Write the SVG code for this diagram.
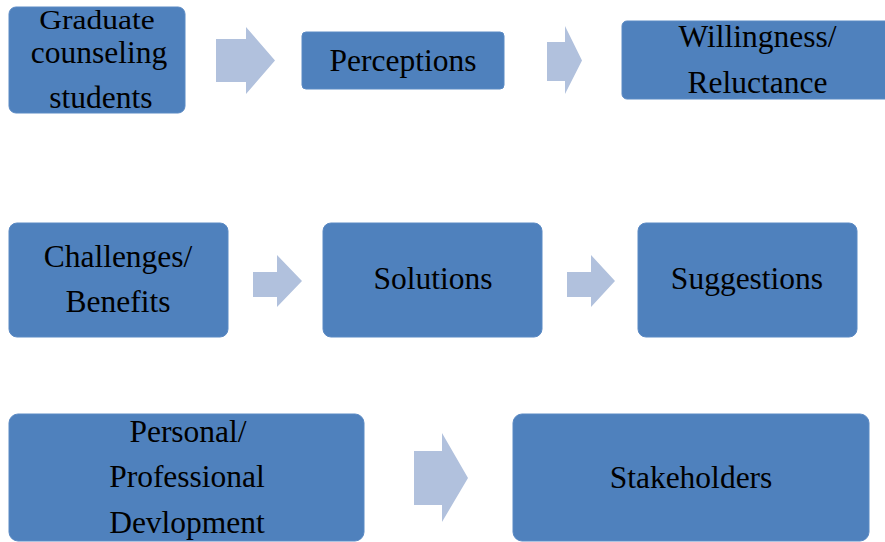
<svg xmlns="http://www.w3.org/2000/svg" width="885" height="542" viewBox="0 0 885 542">
<style>
.box{fill:#4F81BD;stroke:#5B8AC4;stroke-width:1}
.arr{fill:#B1C1DD}
text{font-family:"Liberation Serif","Times New Roman",serif;font-size:31.5px;fill:#000;text-anchor:middle}
</style>
<rect width="885" height="542" fill="#fff"/>
<g id="connectors">
<polygon class="arr" points="216,39 246,39 246,27 275,60.5 246,94 246,82 216,82"/>
<polygon class="arr" points="547,42 565,42 565,26 582,60.5 565,94 565,81 547,81"/>
<polygon class="arr" points="253,272 277,272 277,255 302,281 277,307 277,297 253,297"/>
<polygon class="arr" points="567,272 591,272 591,255 615,281 591,307 591,297 567,297"/>
<polygon class="arr" points="414,451 442,451 442,433 468,478 442,522 442,505 414,505"/>
</g>
<g id="n1">
<rect class="box" x="9" y="7" width="176" height="106" rx="7"/>
<text x="97" y="29" transform="translate(97 29) scale(1 0.86) translate(-97 -29)">Graduate</text>
<text x="99" y="63">counseling</text>
<text x="101" y="108">students</text>
</g>
<g id="n2">
<rect class="box" x="302" y="32" width="202" height="57" rx="4"/>
<text x="403" y="71">Perceptions</text>
</g>
<g id="n3">
<rect class="box" x="622" y="21" width="275" height="78" rx="5"/>
<text x="757.5" y="47">Willingness/</text>
<text x="757.5" y="93">Reluctance</text>
</g>
<g id="n4">
<rect class="box" x="9" y="223" width="219" height="114" rx="8"/>
<text x="118" y="267">Challenges/</text>
<text x="118" y="312">Benefits</text>
</g>
<g id="n5">
<rect class="box" x="323" y="223" width="219" height="114" rx="8"/>
<text x="433" y="289">Solutions</text>
</g>
<g id="n6">
<rect class="box" x="638" y="223" width="219" height="114" rx="8"/>
<text x="747" y="289">Suggestions</text>
</g>
<g id="n7">
<rect class="box" x="9" y="414" width="355" height="127" rx="9"/>
<text x="188" y="442">Personal/</text>
<text x="187" y="487">Professional</text>
<text x="187" y="533">Devlopment</text>
</g>
<g id="n8">
<rect class="box" x="513" y="414" width="356" height="127" rx="9"/>
<text x="691" y="488">Stakeholders</text>
</g>
</svg>
